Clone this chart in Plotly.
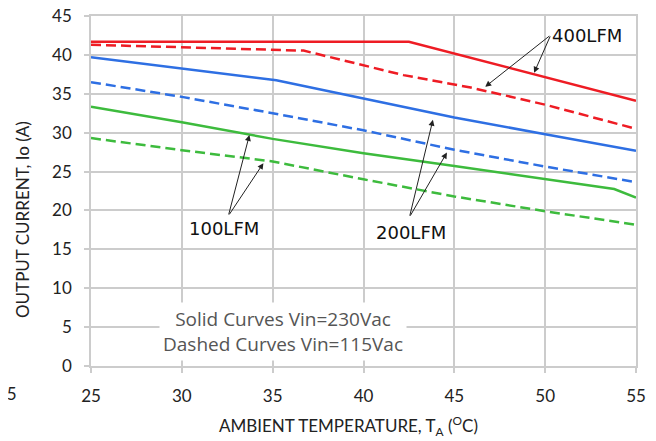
import plotly.graph_objects as go

# ---------------- data ----------------
temp_red_solid = [25, 42.5, 55]
red_solid = [41.7, 41.7, 34.1]

temp_red_dash = [25, 36.7, 42.2, 45.9, 50, 55]
red_dash = [41.3, 40.55, 37.4, 35.8, 33.6, 30.5]

temp_blue_solid = [25, 30, 35.2, 40, 45, 50, 55]
blue_solid = [39.7, 38.3, 36.75, 34.4, 31.95, 29.8, 27.66]

temp_blue_dash = [25, 30, 35, 40, 45, 50, 55]
blue_dash = [36.5, 34.6, 32.5, 30.3, 27.8, 25.64, 23.64]

temp_green_solid = [25, 30, 35, 40, 45, 50, 53.8, 55]
green_solid = [33.35, 31.35, 29.2, 27.36, 25.7, 24.0, 22.75, 21.65]

temp_green_dash = [25, 30, 35, 40, 45, 50, 55]
green_dash = [29.3, 27.75, 26.3, 24.0, 21.8, 19.9, 18.15]

x_ticks = [25, 30, 35, 40, 45, 50, 55]
y_ticks = [0, 5, 10, 15, 20, 25, 30, 35, 40, 45]

RED = "#ee1c24"
BLUE = "#2e6fe3"
GREEN = "#3dbb3d"
GRID = "#cccccc"
DASH = "10px,5px"

fig = go.Figure()

def add(x, y, color, dash):
    fig.add_trace(go.Scatter(x=x, y=y, mode="lines",
                             line=dict(color=color, width=2.5, dash=dash),
                             showlegend=False, hoverinfo="skip"))

add(temp_green_dash, green_dash, GREEN, DASH)
add(temp_green_solid, green_solid, GREEN, "solid")
add(temp_blue_dash, blue_dash, BLUE, DASH)
add(temp_blue_solid, blue_solid, BLUE, "solid")
add(temp_red_dash, red_dash, RED, DASH)
add(temp_red_solid, red_solid, RED, "solid")

tickfont = dict(family="Lato", size=17, color="#222222")
common = dict(showgrid=True, gridcolor=GRID, gridwidth=1.5, zeroline=False,
              showline=True, mirror=True, linecolor=GRID, linewidth=1.5,
              ticks="outside", ticklen=5, tickcolor=GRID, tickwidth=1.5,
              tickfont=tickfont, automargin=False, ticklabeloverflow="allow")

# page has an 8px body margin; figure coordinates are page coordinates - 8
W, H = 648, 433
ml, mr, mt, mb = 0, 20, 8, 75
pw = W - ml - mr          # 628
ph = H - mt - mb          # 350
y_bottom = mt + ph        # 358

fig.update_layout(
    width=W, height=H,
    margin=dict(l=ml, r=mr, t=mt, b=mb),
    paper_bgcolor="white", plot_bgcolor="white",
    xaxis=dict(domain=[83 / pw, 1], range=[25, 55], tickvals=x_ticks,
               ticklabelstandoff=9, **common),
    yaxis=dict(range=[0, 45], tickvals=y_ticks, ticklabelstandoff=9, **common),
)

lab_font = dict(family="DejaVu Sans", size=18, color="#111111")
ann = []

def arrow(tx, ty, hx, hy):
    ann.append(dict(x=hx, y=hy, ax=tx, ay=ty, xref="x", yref="y", axref="x", ayref="y",
                    text="", showarrow=True, arrowhead=2, arrowsize=1.2, arrowwidth=1,
                    arrowcolor="#222222", standoff=0, startstandoff=0))

# 400LFM
arrow(50.31, 42.57, 46.7, 35.9)
arrow(50.31, 42.57, 49.39, 37.7)
ann.append(dict(x=52.31, y=42.49, xref="x", yref="y", text="400LFM", showarrow=False,
                font=lab_font))
# 100LFM
arrow(32.56, 19.3, 33.72, 29.7)
arrow(32.56, 19.3, 34.49, 26.08)
ann.append(dict(x=32.32, y=17.64, xref="x", yref="y", text="100LFM", showarrow=False,
                font=lab_font))
# 200LFM
arrow(42.53, 19.14, 43.82, 31.65)
arrow(42.53, 19.14, 44.59, 27.44)
ann.append(dict(x=42.62, y=17.19, xref="x", yref="y", text="200LFM", showarrow=False,
                font=lab_font))

# legend text box
ann.append(dict(x=35.57, y=4.4, xref="x", yref="y",
                text="Solid Curves Vin=230Vac<br>Dashed Curves Vin=115Vac",
                showarrow=False, bgcolor="white", borderpad=3, align="center",
                font=dict(family="Open Sans", size=19, color="#555555")))

# axis titles
ann.append(dict(x=340 / pw, y=(y_bottom - 418) / ph, xref="paper", yref="paper",
                xanchor="center", yanchor="middle",
                text="AMBIENT TEMPERATURE, T<sub>A</sub> (<sup>O</sup>C)",
                showarrow=False, font=dict(family="Lato", size=17, color="#222222")))
ann.append(dict(x=14 / pw, y=(y_bottom - 212) / ph, xref="paper", yref="paper",
                xanchor="center", yanchor="middle",
                text="OUTPUT CURRENT, Io (A)", textangle=-90,
                showarrow=False, font=dict(family="Lato", size=17, color="#222222")))

# cropped tick label of the neighbouring chart at the far left
ann.append(dict(x=-1 / pw, y=(y_bottom - 385) / ph, xref="paper", yref="paper",
                xanchor="center", yanchor="middle", text="55",
                showarrow=False, font=tickfont))

fig.update_layout(annotations=ann)

fig.write_html("out.html")
